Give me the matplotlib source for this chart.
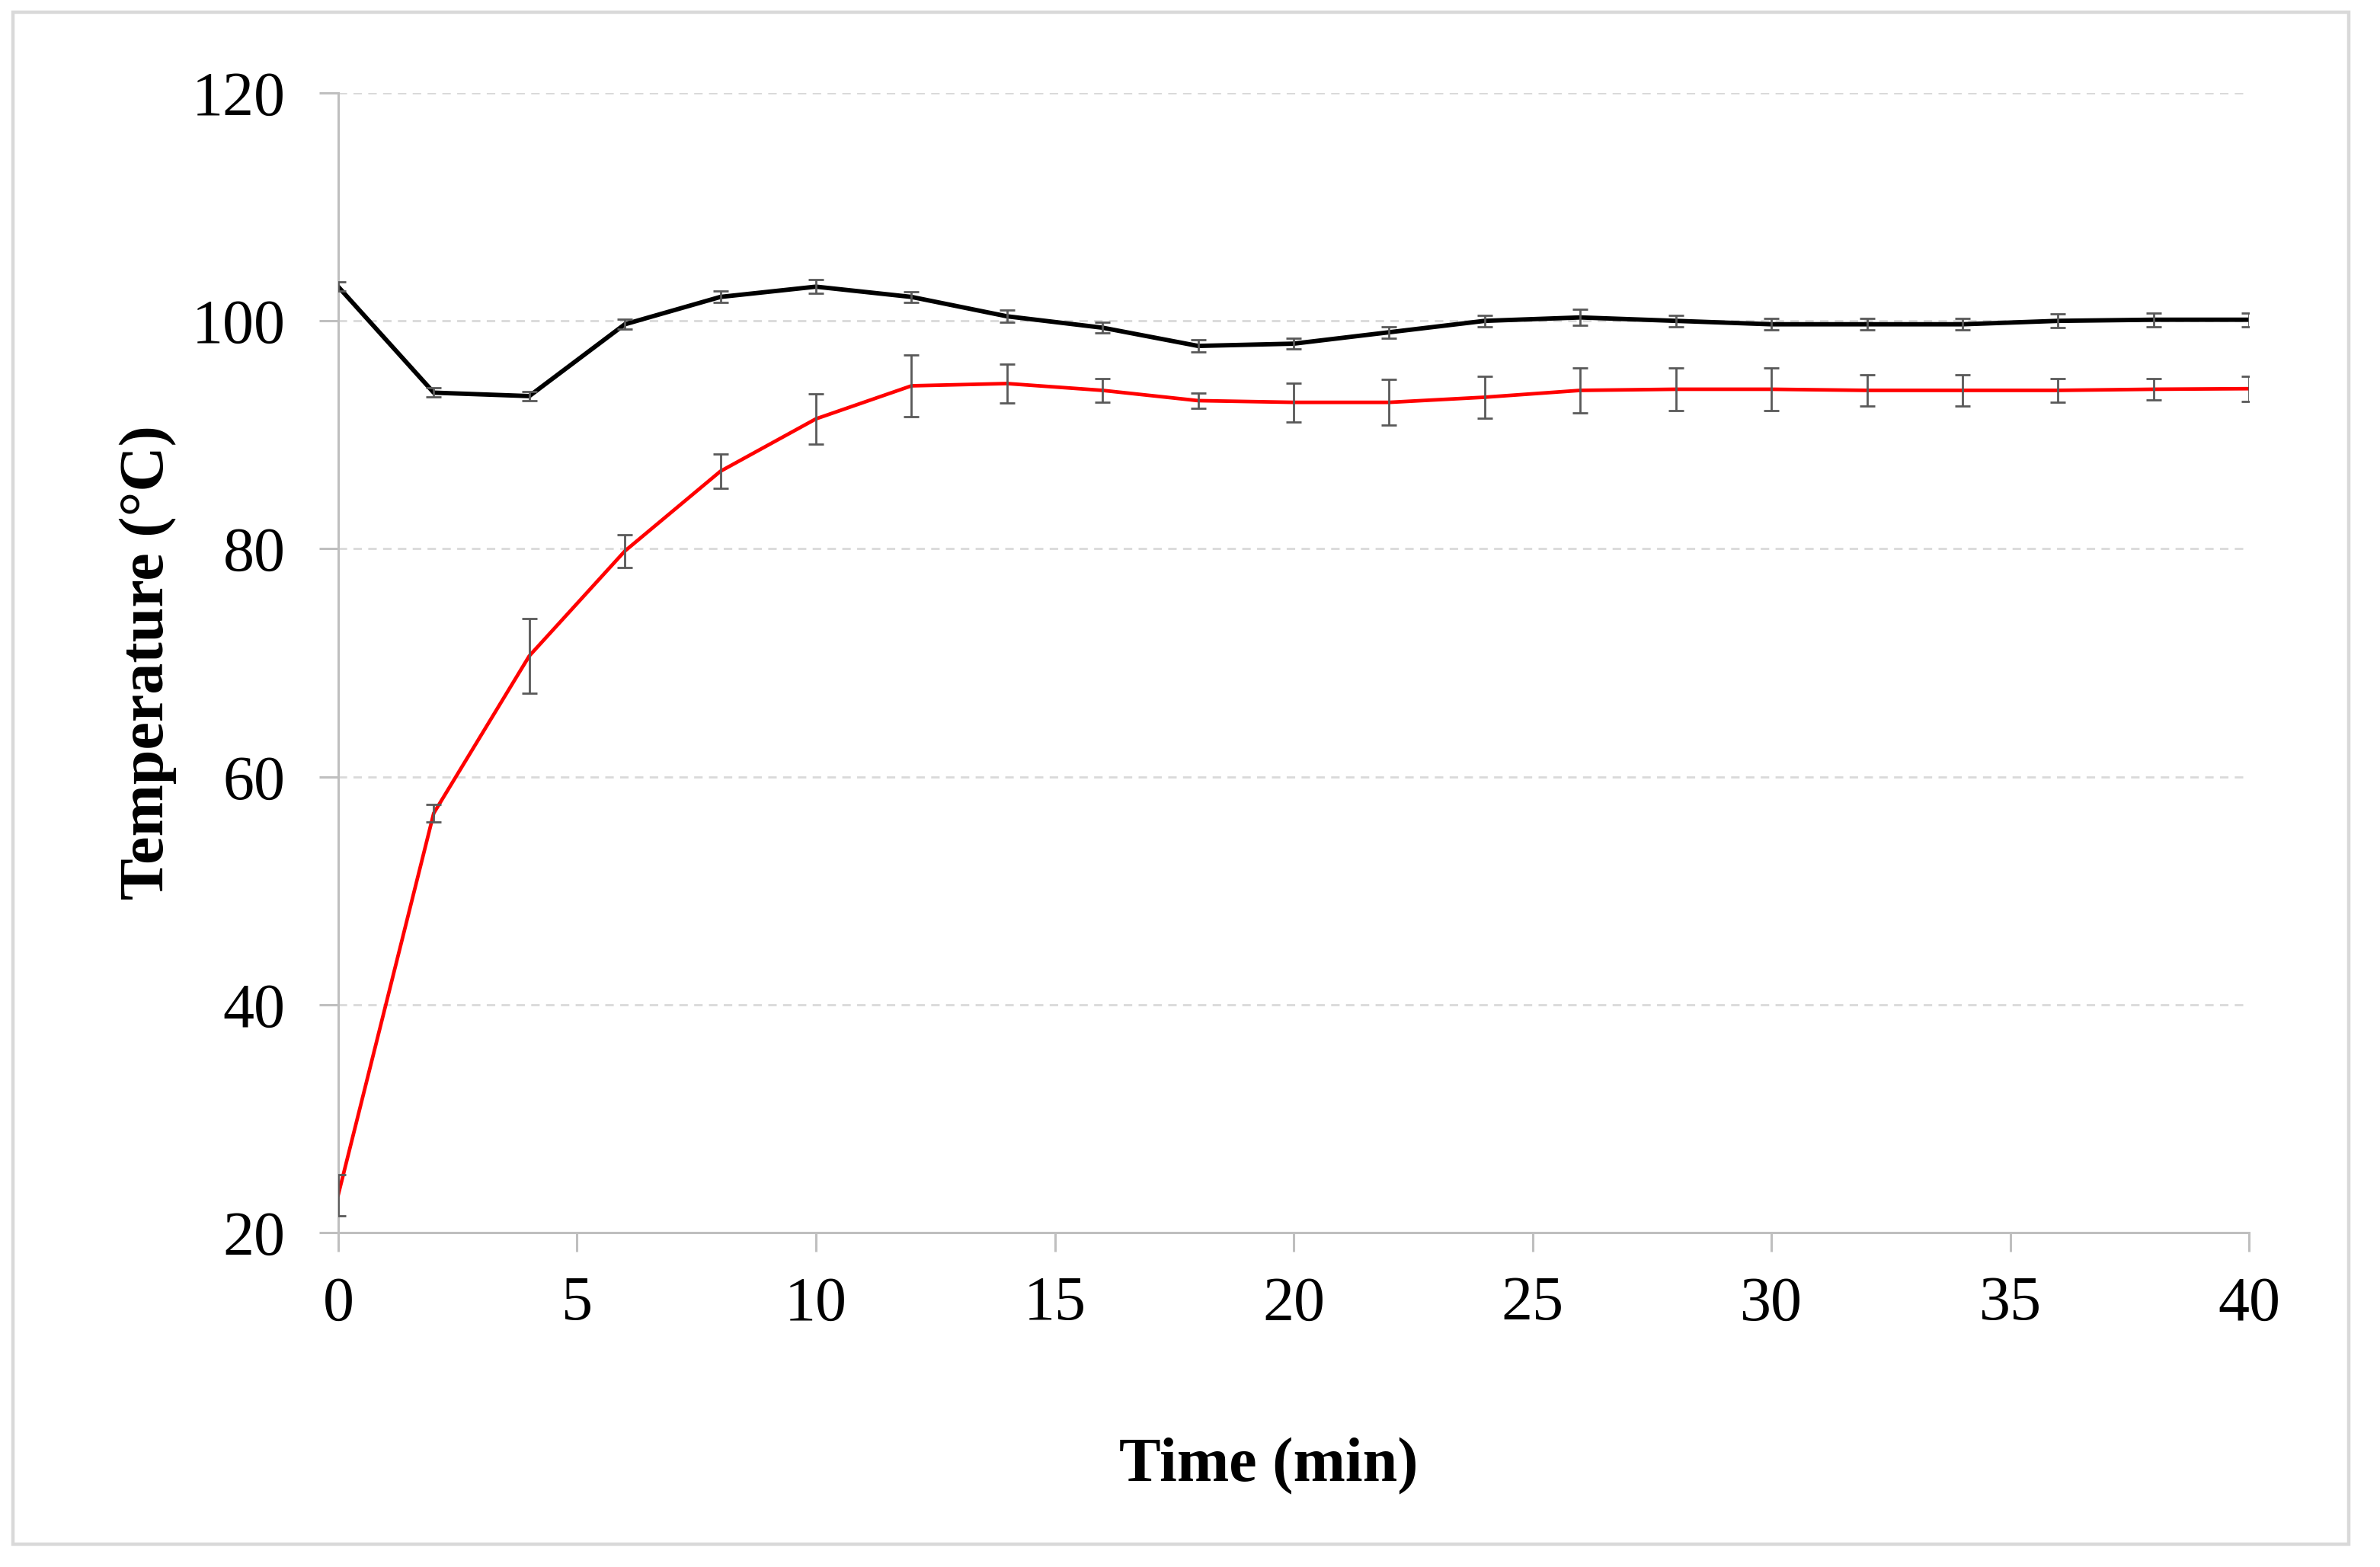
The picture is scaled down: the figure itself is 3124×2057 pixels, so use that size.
import numpy as np
import matplotlib
matplotlib.use("Agg")
import matplotlib.pyplot as plt
from matplotlib.patches import Rectangle

# time points (min)
time = [0, 2, 4, 6, 8, 10, 12, 14, 16, 18, 20, 22, 24, 26, 28, 30, 32, 34, 36, 38, 40]

# black series and its error
temp_black = [103.0, 93.7, 93.4, 99.7, 102.1, 103.0, 102.1, 100.4, 99.4, 97.8, 98.0,
              99.0, 100.0, 100.3, 100.0, 99.7, 99.7, 99.7, 100.0, 100.1, 100.1]
err_black = [0.4, 0.4, 0.4, 0.45, 0.5, 0.6, 0.45, 0.55, 0.45, 0.55, 0.45,
             0.5, 0.5, 0.7, 0.5, 0.5, 0.5, 0.5, 0.6, 0.6, 0.6]

# red series and its error
temp_red = [23.3, 56.8, 70.6, 79.8, 86.8, 91.4, 94.3, 94.5, 93.9, 93.0, 92.85,
            92.85, 93.3, 93.9, 94.0, 94.0, 93.9, 93.9, 93.9, 94.0, 94.05]
err_red = [1.8, 0.75, 3.3, 1.45, 1.5, 2.2, 2.7, 1.7, 1.05, 0.67, 1.7,
           2.0, 1.85, 2.0, 1.9, 1.9, 1.4, 1.35, 1.05, 0.95, 1.1]

xticks = [0, 5, 10, 15, 20, 25, 30, 35, 40]
yticks = [20, 40, 60, 80, 100, 120]

plt.rcParams['font.family'] = ['Liberation Serif', 'DejaVu Serif']

fig = plt.figure(figsize=(15.62, 10.285), dpi=200)
ax = fig.add_axes([0.1421, 0.2134, 0.8029, 0.7273])

# outer frame of the picture
fig.patches.append(Rectangle((0.0055, 0.0145), 0.9815, 0.9775, transform=fig.transFigure,
                             fill=False, edgecolor='#d9d9d9', linewidth=1.6))

ax.plot(time, temp_black, color='black', linewidth=2.1, zorder=3)
ax.plot(time, temp_red, color='#ff0000', linewidth=1.7, zorder=3)
ax.errorbar(time, temp_black, yerr=err_black, fmt='none', ecolor='#595959',
            elinewidth=1.0, capsize=3.5, capthick=1.0, zorder=4)
ax.errorbar(time, temp_red, yerr=err_red, fmt='none', ecolor='#595959',
            elinewidth=1.0, capsize=3.5, capthick=1.0, zorder=4)

ax.set_xlim(0, 40)
ax.set_ylim(20, 120)
ax.set_xticks(xticks)
ax.set_yticks(yticks)

ax.yaxis.grid(True, linestyle=(0, (4, 3)), color='#d9d9d9', linewidth=1.0)
ax.set_axisbelow(True)

for s in ['top', 'right']:
    ax.spines[s].set_visible(False)
for s in ['left', 'bottom']:
    ax.spines[s].set_color('#bfbfbf')
    ax.spines[s].set_linewidth(1.1)
ax.spines['left'].set_zorder(1)

ax.tick_params(axis='both', direction='out', length=9, width=1.1, color='#bfbfbf',
               labelsize=29.5)
ax.tick_params(axis='y', pad=16)
ax.tick_params(axis='x', pad=11.5)

ax.set_xlabel('Time (min)', fontsize=29.5, fontweight='bold')
ax.xaxis.set_label_coords(0.487, -0.18)
ax.set_ylabel('Temperature (°C)', fontsize=29.5, fontweight='bold')
ax.yaxis.set_label_coords(-0.0845, 0.5)

fig.savefig('out.png', dpi=200)
